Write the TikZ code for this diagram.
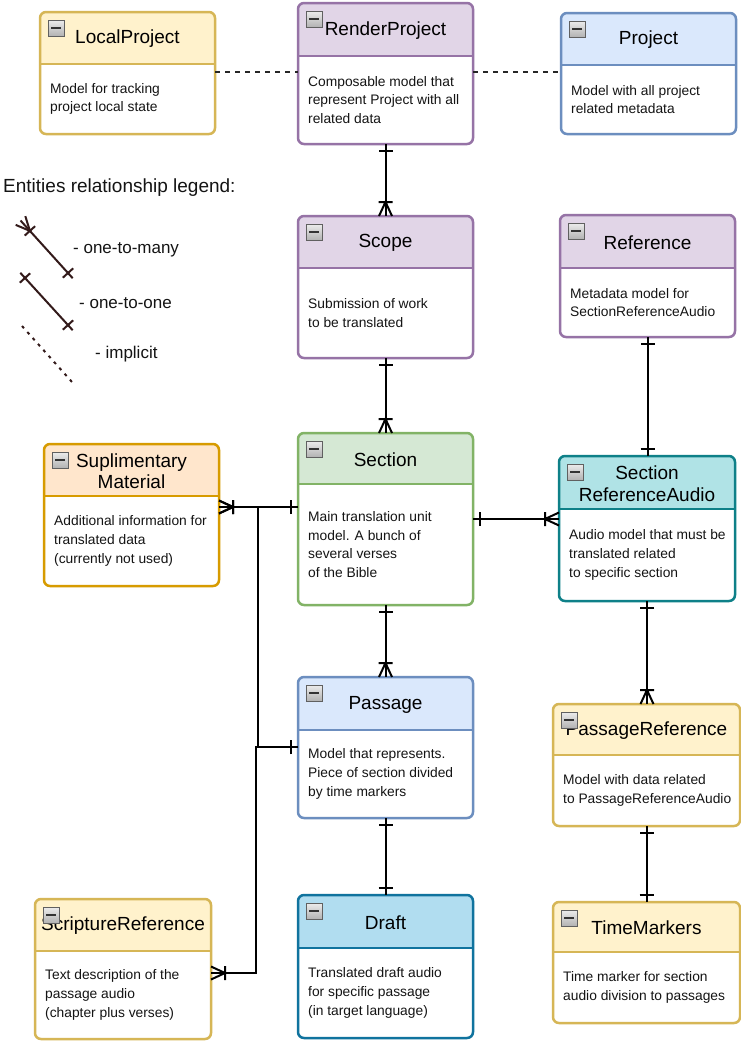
\documentclass[tikz,border=0pt]{standalone}
\usepackage{fontspec}
\setmainfont{Liberation Sans}
\usetikzlibrary{calc}

\definecolor{yfill}{HTML}{FFF2CC}\definecolor{yline}{HTML}{D6B656}
\definecolor{pfill}{HTML}{E1D5E7}\definecolor{pline}{HTML}{9673A6}
\definecolor{bfill}{HTML}{DAE8FC}\definecolor{bline}{HTML}{6C8EBF}
\definecolor{gfill}{HTML}{D5E8D4}\definecolor{gline}{HTML}{82B366}
\definecolor{ofill}{HTML}{FFE6CC}\definecolor{oline}{HTML}{D79B00}
\definecolor{tfill}{HTML}{B0E3E6}\definecolor{tline}{HTML}{0E8088}
\definecolor{dfill}{HTML}{B1DDF0}\definecolor{dline}{HTML}{10739E}
\definecolor{legcol}{HTML}{331A1A}

\pgfdeclarearrow{
  name=erone,
  setup code={
    \pgfarrowssettipend{0pt}
    \pgfarrowssetlineend{0pt}
    \pgfarrowssetbackend{-8pt}
    \pgfarrowshullpoint{0pt}{7pt}
    \pgfarrowshullpoint{0pt}{-7pt}
    \pgfarrowshullpoint{-8pt}{7pt}
    \pgfarrowshullpoint{-8pt}{-7pt}
  },
  drawing code={
    \pgfsetdash{}{0pt}
    \pgfpathmoveto{\pgfqpoint{-7pt}{-7pt}}
    \pgfpathlineto{\pgfqpoint{-7pt}{7pt}}
    \pgfusepathqstroke
  }
}
\pgfdeclarearrow{
  name=ermany,
  setup code={
    \pgfarrowssettipend{0pt}
    \pgfarrowssetlineend{0pt}
    \pgfarrowssetbackend{-15pt}
    \pgfarrowshullpoint{0pt}{7pt}
    \pgfarrowshullpoint{0pt}{-7pt}
    \pgfarrowshullpoint{-15pt}{7pt}
    \pgfarrowshullpoint{-15pt}{-7pt}
  },
  drawing code={
    \pgfsetdash{}{0pt}
    \pgfpathmoveto{\pgfqpoint{0pt}{6.5pt}}
    \pgfpathlineto{\pgfqpoint{-14pt}{0pt}}
    \pgfpathlineto{\pgfqpoint{0pt}{-6.5pt}}
    \pgfpathmoveto{\pgfqpoint{-14pt}{-7pt}}
    \pgfpathlineto{\pgfqpoint{-14pt}{7pt}}
    \pgfusepathqstroke
  }
}

\tikzset{
  conn/.style={line width=2pt, draw=black},
  dashline/.style={line width=1.6pt, draw=black!85, dash pattern=on 5pt off 5pt},
  legline/.style={line width=2pt, draw=legcol},
  ttl/.style={font=\fontsize{19}{21.5}\selectfont, align=center, inner sep=0pt, text=black},
  bodytxt/.style={font=\fontsize{13.8}{18.8}\selectfont, align=left, inner sep=0pt, anchor=west, text=black!92},
  legtxt/.style={font=\fontsize{17}{20}\selectfont, inner sep=0pt, anchor=west, text=black!92},
  ebox/.style={rectangle, inner sep=0pt, outer sep=0pt, draw=none, fill=white},
  minusicon/.style={draw=gray!75!black, line width=0.8pt, top color=gray!15, bottom color=gray!60}
}

% #1 name, #2 x1, #3 y1, #4 x2, #5 y2, #6 header bottom, #7 colour prefix, #8 title, #9 body
\newcommand\erbox[9]{%
  \node[ebox, minimum width={#4-#2}, minimum height={#5-#3}] (#1) at ({(#2+#4)/2},{(#3+#5)/2}) {};
  \begin{scope}
    \clip[rounded corners=6pt] (#2,#3) rectangle (#4,#5);
    \fill[#7fill] (#2,#3) rectangle (#4,#6);
  \end{scope}
  \draw[#7line, line width=2.5pt, rounded corners=6pt] (#2,#3) rectangle (#4,#5);
  \draw[#7line, line width=2.5pt] (#2,#6) -- (#4,#6);
  \node[ttl] (#1-title) at ({(#2+#4)/2},{(#3+#6)/2+1}) {#8};
  \node[bodytxt] (#1-body) at ({#2+10},{(#6+#5)/2}) {#9};
  \draw[minusicon] ({#2+8},{#3+8}) rectangle ({#2+24},{#3+24});
  \fill[black!80] ({#2+11},{#3+14.7}) rectangle ({#2+21},{#3+17.3});
}

\begin{document}
\begin{tikzpicture}[x=1pt,y=-1pt]
\useasboundingbox (0,0) rectangle (741,1045);
\fill[white] (0,0) rectangle (741,1045);

\erbox{LP}{40}{12}{215}{134}{64}{y}{LocalProject}{Model for tracking\\project local state}
\erbox{RP}{298}{3}{473}{144}{56}{p}{RenderProject}{Composable model that\\represent Project with all\\related data}
\erbox{Proj}{561}{13}{736}{134}{65}{b}{Project}{Model with all project\\related metadata}
\erbox{Scope}{298}{216}{473}{358}{268}{p}{Scope}{Submission of work\\to be translated}
\erbox{Ref}{560}{215}{735}{337}{268}{p}{Reference}{Metadata model for\\SectionReferenceAudio}
\erbox{Section}{298}{433}{473}{605}{484}{g}{Section}{Main translation unit\\model. A bunch of\\several verses\\of the Bible}
\erbox{Supl}{44}{444}{219}{586}{496}{o}{Suplimentary\\Material}{Additional information for\\translated data\\(currently not used)}
\erbox{SRA}{559}{456}{735}{601}{509}{t}{Section\\ReferenceAudio}{Audio model that must be\\translated related\\to specific section}
\erbox{Passage}{298}{677}{473}{818}{730}{b}{Passage}{Model that represents.\\Piece of section divided\\by time markers}
\erbox{PR}{553}{704}{740}{826}{755}{y}{PassageReference}{Model with data related\\to PassageReferenceAudio}
\erbox{Draft}{298}{895}{473}{1038}{948}{d}{Draft}{Translated draft audio\\for specific passage\\(in target language)}
\erbox{SR}{35}{899}{211}{1039}{951}{y}{ScriptureReference}{Text description of the\\passage audio\\(chapter plus verses)}
\erbox{TM}{553}{902}{740}{1023}{952}{y}{TimeMarkers}{Time marker for section\\audio division to passages}

% implicit links
\draw[dashline] (LP.east |- 0,72) -- (RP.west |- 0,72);
\draw[dashline] (RP.east |- 0,72) -- (Proj.west |- 0,72);

% relations
\draw[conn, erone-ermany] (RP.south) -- (Scope.north);
\draw[conn, erone-ermany] (Scope.south) -- (Section.north);
\draw[conn, erone-erone] (Ref.south) -- (Ref.south |- SRA.north);
\draw[conn, erone-ermany] (Section.east |- 0,519) -- (SRA.west |- 0,519);
\draw[conn, erone-ermany] (SRA.south) -- (SRA.south |- PR.north);
\draw[conn, erone-erone] (PR.south) -- (TM.north);
\draw[conn, erone-ermany] (Section.south) -- (Passage.north);
\draw[conn, erone-erone] (Passage.south) -- (Draft.north);
\draw[conn, erone-ermany] (Section.west |- 0,507) -- (Supl.east |- 0,507);
\draw[conn, erone-ermany] (Passage.west |- 0,747) -| (258,507) -- (Supl.east |- 0,507);
\draw[conn, erone-ermany] (Passage.west |- 0,747) -| (256,973) -- (SR.east |- 0,973);

% legend
\node[legtxt, font=\fontsize{19}{22}\selectfont] (legtitle) at (3,188) {Entities relationship legend:};
\coordinate (l1a) at (20.5,220.5); \coordinate (l1b) at (72.7,278.2);
\coordinate (l2a) at (20.3,272.8); \coordinate (l2b) at (72.7,330.2);
\coordinate (l3a) at (22,326);     \coordinate (l3b) at (72,382);
\draw[legline, ermany-erone] (l1a) -- (l1b);
\draw[legline, erone-erone] (l2a) -- (l2b);
\draw[legline, dash pattern=on 3pt off 5pt] (l3a) -- (l3b);
\node[legtxt] (leg1) at (73,250) {- one-to-many};
\node[legtxt] (leg2) at (79,303) {- one-to-one};
\node[legtxt] (leg3) at (95,354) {- implicit};
\end{tikzpicture}
\end{document}
